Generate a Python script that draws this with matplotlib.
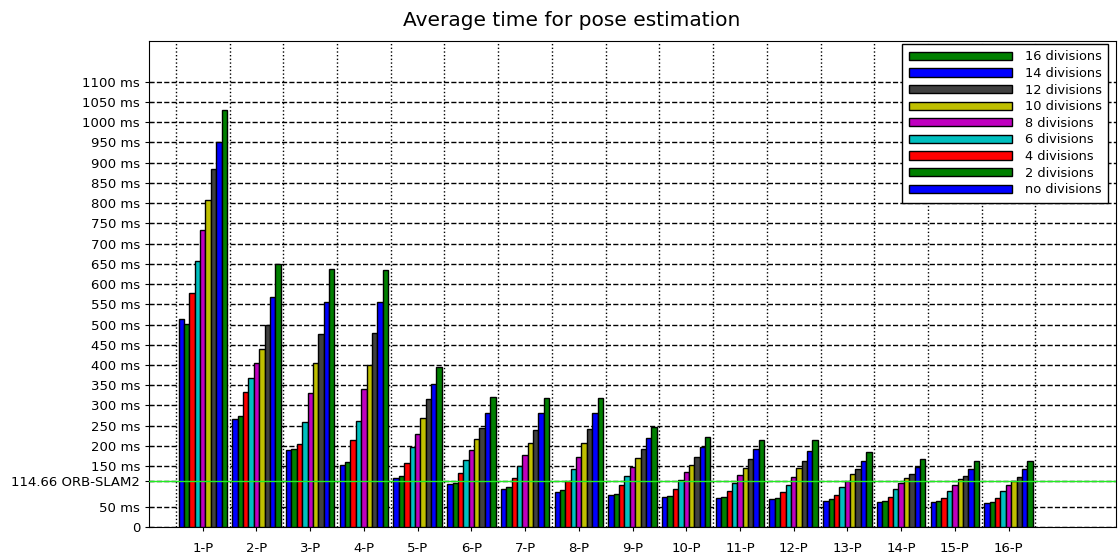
import numpy as np
import matplotlib.pyplot as plt
from matplotlib.ticker import FixedLocator

# Pose estimation time (ms) per sequence, one list per division setting
sequences = ['1-P', '2-P', '3-P', '4-P', '5-P', '6-P', '7-P', '8-P',
             '9-P', '10-P', '11-P', '12-P', '13-P', '14-P', '15-P', '16-P']
series_names = ['no divisions', '2 divisions', '4 divisions', '6 divisions',
                '8 divisions', '10 divisions', '12 divisions', '14 divisions',
                '16 divisions']
no_div = [513, 266, 189, 152, 120, 105, 94, 86, 78, 74, 71, 68, 64, 62, 61, 58]
div_2 = [501, 273, 193, 160, 126, 109, 98, 91, 81, 77, 74, 72, 68, 64, 64, 61]
div_4 = [579, 333, 205, 214, 159, 134, 121, 113, 103, 94, 88, 86, 78, 75, 71, 71]
div_6 = [656, 367, 258, 261, 197, 165, 150, 143, 125, 116, 109, 104, 98, 93, 89, 89]
div_8 = [733, 406, 331, 341, 230, 191, 178, 174, 147, 135, 128, 123, 113, 108, 104, 103]
div_10 = [807, 439, 405, 400, 269, 217, 207, 207, 170, 154, 146, 145, 130, 121, 118, 113]
div_12 = [884, 500, 477, 479, 315, 244, 240, 242, 193, 172, 167, 164, 142, 131, 125, 124]
div_14 = [950, 568, 556, 556, 352, 281, 281, 281, 219, 198, 192, 188, 162, 148, 144, 143]
div_16 = [1029, 649, 636, 635, 395, 322, 318, 319, 247, 223, 216, 214, 184, 167, 163, 162]
orb_slam2 = 114.66

series = [no_div, div_2, div_4, div_6, div_8, div_10, div_12, div_14, div_16]
colors = ['#0000ff', '#008000', '#ff0000', '#00bfbf', '#bf00bf',
          '#bfbf00', '#404040', '#0000ff', '#008000']

fig = plt.figure(figsize=(11.18, 5.56), dpi=100)
ax = fig.add_axes([0.1333, 0.0522, 0.8649, 0.874])

x = np.arange(len(sequences))
width = 0.1
for i, (vals, name, col) in enumerate(zip(series, series_names, colors)):
    offset = (i - 4) * width
    ax.bar(x + offset, vals, width, color=col, edgecolor='black',
           linewidth=1, label=name, zorder=3)

ax.axhline(orb_slam2, color='#22ee22', linewidth=1, zorder=4)

ax.set_xlim(-1, 17)
ax.set_ylim(0, 1200)

yticks = [0, 50, orb_slam2] + list(range(150, 1101, 50))
ylabels = ['0', '50 ms', '114.66 ORB-SLAM2'] + ['%d ms' % v for v in range(150, 1101, 50)]
ax.set_yticks(yticks)
ax.set_yticklabels(ylabels, fontsize=9.5)
ax.set_xticks(x)
ax.set_xticklabels(sequences, fontsize=9.5)
ax.xaxis.set_minor_locator(FixedLocator(np.arange(-0.5, 16, 1)))
ax.tick_params(axis='both', which='major', direction='inout', length=6)
ax.tick_params(axis='x', which='major', pad=8)
ax.tick_params(axis='x', which='minor', length=0)

# dashed horizontal grid, dotted separators between sequences
ax.grid(axis='y', which='major', linestyle='--', color='black', linewidth=1, zorder=0)
ax.grid(axis='x', which='minor', linestyle=':', color='black', linewidth=1, zorder=0)
ax.set_axisbelow(True)

fig.text(0.511, 0.963, 'Average time for pose estimation', fontsize=14.5,
         ha='center', va='center')

handles, labels = ax.get_legend_handles_labels()
leg = ax.legend(handles[::-1], labels[::-1], loc='upper right', fontsize=9.3,
                handlelength=8.0, handleheight=0.6, labelspacing=0.28,
                handletextpad=1.0, borderaxespad=0.15, fancybox=False,
                framealpha=1, edgecolor='black', borderpad=0.5)
leg.get_frame().set_linewidth(1)
# nudge the legend a little left of the right spine
leg.set_bbox_to_anchor((0.994, 0.998), transform=ax.transAxes)

fig.savefig('out.png', dpi=100)
